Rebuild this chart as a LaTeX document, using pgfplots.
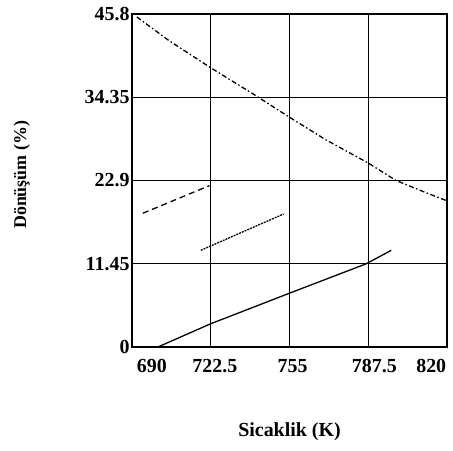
\documentclass[border=0pt]{standalone}
\usepackage{pgfplots}
\pgfplotsset{compat=1.18}
\usepackage{fontspec}
\setmainfont{Liberation Serif}

\begin{document}
\begin{tikzpicture}
\begin{axis}[
  scale only axis,
  width=315bp, height=333bp,
  at={(0,0)}, anchor=south west,
  xmin=690, xmax=820,
  ymin=0, ymax=45.8,
  xtick={690,722.5,755,787.5,820},
  xticklabels={},
  extra x ticks={698.2,724.2,756.3,790,813.5},
  extra x tick labels={690,722.5,755,787.5,820},
  extra x tick style={grid=none, major tick length=0pt},
  ytick={0,11.45,22.9,34.35,45.8},
  yticklabels={0,11.45,22.9,34.35,45.8},
  major tick length=0pt,
  grid=major,
  major grid style={black, line width=1.3pt},
  axis line style={black, line width=1.6pt},
  tick label style={font=\fontsize{20}{22}\selectfont\bfseries},
  xticklabel style={yshift=-9bp},
  yticklabel style={xshift=1bp},
  xlabel={Sicaklik (K)},
  ylabel={Dönüşüm (\%)},
  xlabel style={font=\fontsize{20}{22}\selectfont\bfseries, at={(axis description cs:0.5,-0.255)}, anchor=center},
  ylabel style={font=\fontsize{18}{20}\selectfont\bfseries, at={(axis description cs:-0.35,0.517)}, anchor=center, rotate=0},
  clip=false,
]
% falling conversion curve
\addplot[black, line width=1.3pt, dash pattern=on 5pt off 2.5pt on 1.5pt off 2.5pt] coordinates {
  (692,45.4) (705,42.2) (722.5,38.4) (740,34.8) (755,31.6) (770,28.5) (787.5,25.3) (799,22.9) (810,21.4) (820,20.1)
};
% dashed segment
\addplot[black, line width=1.3pt, dash pattern=on 6pt off 4pt] coordinates {
  (694.5,18.4) (722,22.2)
};
% finely dashed segment
\addplot[black, line width=1.3pt, dash pattern=on 2pt off 1pt] coordinates {
  (718.4,13.3) (752.6,18.3)
};
% solid rising line
\addplot[black, line width=1.3pt] coordinates {
  (700.7,0) (722.5,3.2) (755,7.4) (786.7,11.45) (797,13.3)
};
\end{axis}
\pgfresetboundingbox
\path (-132bp,-104bp) rectangle (321bp,347bp);
\end{tikzpicture}
\end{document}
